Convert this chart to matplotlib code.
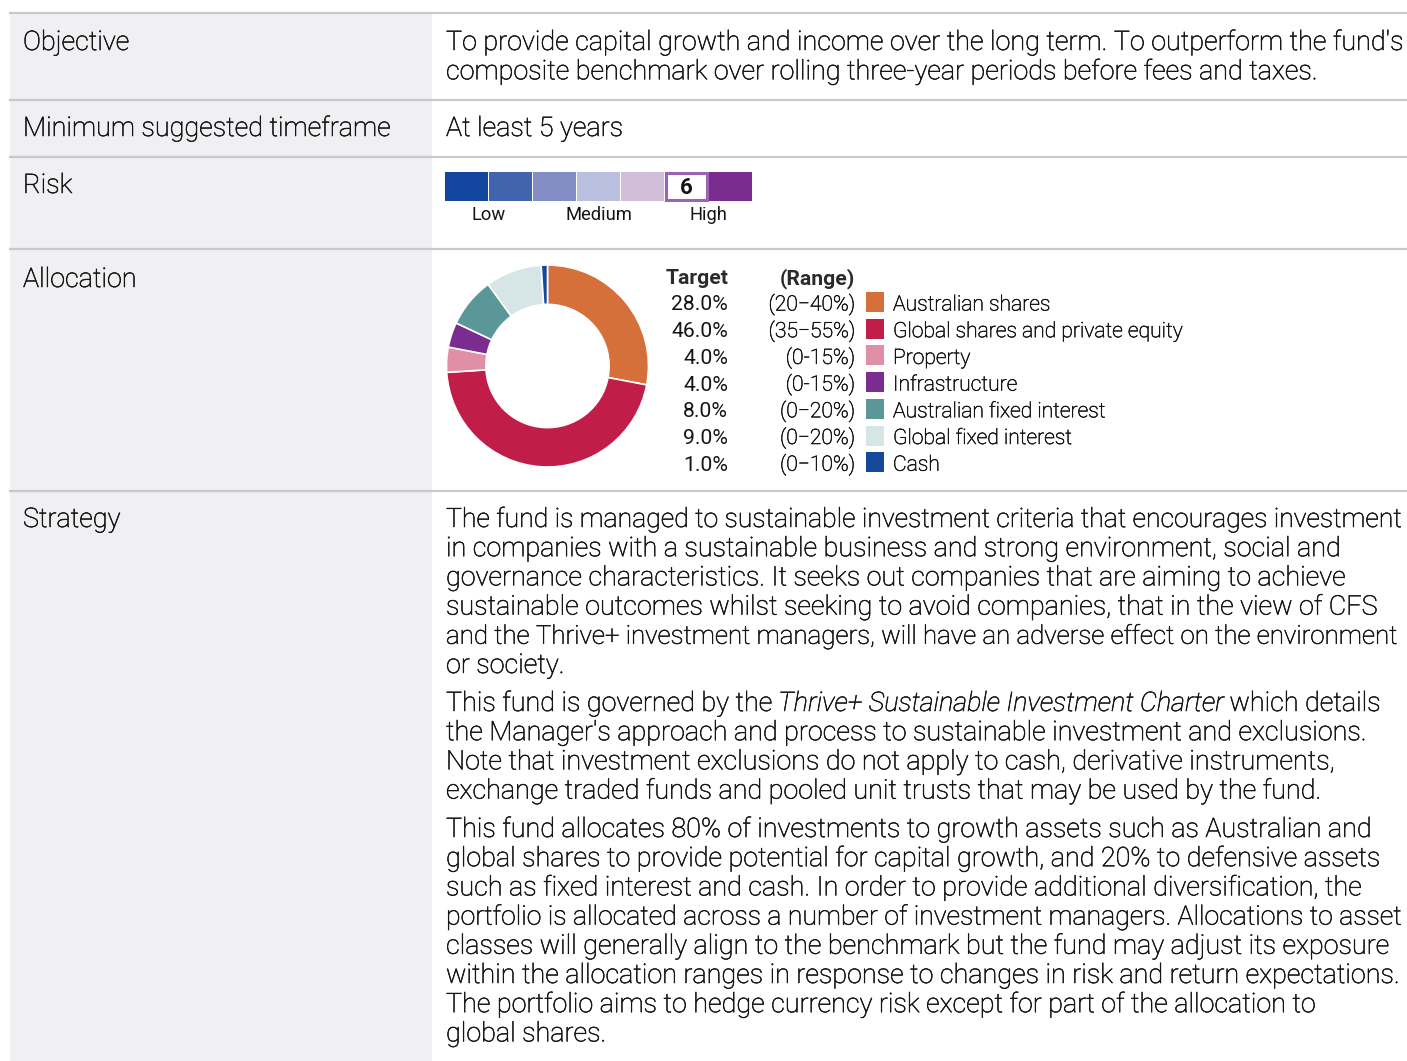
import matplotlib.pyplot as plt
import matplotlib.patheffects as pe
from matplotlib.patches import Rectangle

# --- data -------------------------------------------------------------
row_labels = ["Objective", "Minimum suggested timeframe", "Risk", "Allocation", "Strategy"]

objective_lines = [
    "To provide capital growth and income over the long term. To outperform the fund's",
    "composite benchmark over rolling three-year periods before fees and taxes.",
]
timeframe_text = "At least 5 years"

risk_level = 6
risk_colors = ["#13479f", "#4263ad", "#838dc5", "#bbc0e1", "#d3bed9", "#ffffff", "#7a2b8e"]
risk_labels = ["Low", "Medium", "High"]

asset_names = ["Australian shares", "Global shares and private equity", "Property",
               "Infrastructure", "Australian fixed interest", "Global fixed interest", "Cash"]
asset_targets = [28.0, 46.0, 4.0, 4.0, 8.0, 9.0, 1.0]
asset_ranges = ["(20\u221240%)", "(35\u221255%)", "(0-15%)", "(0-15%)",
                "(0\u221220%)", "(0\u221220%)", "(0\u221210%)"]
asset_colors = ["#d5703b", "#c01e48", "#e08fa6", "#7b2c90", "#5b9699", "#d6e5e6", "#15489b"]

strategy_paras = [
    ["The fund is managed to sustainable investment criteria that encourages investment",
     "in companies with a sustainable business and strong environment, social and",
     "governance characteristics. It seeks out companies that are aiming to achieve",
     "sustainable outcomes whilst seeking to avoid companies, that in the view of CFS",
     "and the Thrive+ investment managers, will have an adverse effect on the environment",
     "or society."],
    ["This fund is governed by the |Thrive+ Sustainable Investment Charter| which details",
     "the Manager's approach and process to sustainable investment and exclusions.",
     "Note that investment exclusions do not apply to cash, derivative instruments,",
     "exchange traded funds and pooled unit trusts that may be used by the fund."],
    ["This fund allocates 80% of investments to growth assets such as Australian and",
     "global shares to provide potential for capital growth, and 20% to defensive assets",
     "such as fixed interest and cash. In order to provide additional diversification, the",
     "portfolio is allocated across a number of investment managers. Allocations to asset",
     "classes will generally align to the benchmark but the fund may adjust its exposure",
     "within the allocation ranges in response to changes in risk and return expectations.",
     "The portfolio aims to hedge currency risk except for part of the allocation to",
     "global shares."],
]

# --- layout -----------------------------------------------------------
W, H = 1407, 1061
TXT = "#141414"
plt.rcParams["font.family"] = ["Roboto", "DejaVu Sans"]
# light weight, slightly thickened so it reads like the print
LT = dict(fontweight="light", color=TXT,
          path_effects=[pe.withStroke(linewidth=0.4, foreground=TXT)])

fig = plt.figure(figsize=(W / 100, H / 100), dpi=100)
ax = fig.add_axes([0, 0, 1, 1])
ax.set_xlim(0, W)
ax.set_ylim(H, 0)
ax.axis("off")

# grey label column and row rules
ax.add_patch(Rectangle((10, 13), 422, H - 13, color="#f0eff2", lw=0, zorder=0))
for y in [13, 100, 157, 249, 491]:
    ax.plot([10, W], [y, y], color="#c9c9cb", lw=1.6, zorder=1)

main_fs = 19.4
x_body, x_right = 446, 1401
body_texts = []

row_baselines = [50, 136, 193, 287, 527]
for lab, yb in zip(row_labels, row_baselines):
    ax.text(23, yb, lab, fontsize=main_fs, va="baseline", **LT)

for i, line in enumerate(objective_lines):
    body_texts.append(ax.text(x_body, 50 + i * 29.3, line, fontsize=main_fs, va="baseline", **LT))
ax.text(x_body, 136, timeframe_text, fontsize=main_fs, va="baseline", **LT)

# risk scale
for i, c in enumerate(risk_colors):
    x0 = 445 + i * 44
    if i + 1 == risk_level:
        ax.add_patch(Rectangle((x0 + 1.2, 173.2), 40.6, 26.6, facecolor="white",
                               edgecolor="#9a63b3", lw=2.2, zorder=2))
        ax.text(x0 + 21.5, 188.5, str(risk_level), fontsize=16, fontweight="bold",
                color=TXT, ha="center", va="center", zorder=3)
    else:
        ax.add_patch(Rectangle((x0, 172), 43, 29, color=c, lw=0, zorder=2))
for lab, xi in zip(risk_labels, [1, 3.5, 6]):
    ax.text(445 + xi * 44 - 0.5, 220, lab, fontsize=13.2, color=TXT, ha="center", va="baseline")

# donut
cx, cy, r = 547.5, 366, 102
pax = fig.add_axes([(cx - r) / W, (H - cy - r) / H, 2 * r / W, 2 * r / H])
pax.pie(asset_targets, colors=asset_colors, startangle=90, counterclock=False,
        radius=1, wedgeprops=dict(width=0.39, edgecolor="white", linewidth=1.2))
pax.set_xlim(-1.01, 1.01)
pax.set_ylim(-1.01, 1.01)
pax.axis("off")

# allocation table
leg_fs = 15.2
ax.text(728, 284, "Target", fontsize=leg_fs, fontweight="bold", color="#2a2a2a", ha="right", va="baseline")
ax.text(855, 284, "(Range)", fontsize=leg_fs, fontweight="bold", color="#2a2a2a", ha="right", va="baseline")
for i, (name, tgt, rng, col) in enumerate(zip(asset_names, asset_targets, asset_ranges, asset_colors)):
    yb = 310.5 + i * 26.7
    ax.text(728, yb, f"{tgt:.1f}%", fontsize=leg_fs, color=TXT, ha="right", va="baseline")
    ax.text(855, yb, rng, fontsize=leg_fs, ha="right", va="baseline", **LT)
    ax.add_patch(Rectangle((866, yb - 18.5), 18, 20, color=col, lw=0, zorder=2))
    ax.text(893, yb, name, fontsize=leg_fs, ha="left", va="baseline", **LT)

# strategy paragraphs
para_starts = [527, 711, 837]
for start, para in zip(para_starts, strategy_paras):
    for i, line in enumerate(para):
        yb = start + i * 29.2
        if "|" in line:
            a, b, c = line.split("|")
            t1 = ax.text(x_body, yb, a.rstrip(), fontsize=main_fs, va="baseline", **LT)
            t2 = ax.annotate(b, xy=(1, 0), xycoords=t1, xytext=(4.8, 0), textcoords="offset points",
                             fontsize=main_fs, style="italic", va="bottom", **LT)
            ax.annotate(c.lstrip(), xy=(1, 0), xycoords=t2, xytext=(4.8, 0), textcoords="offset points",
                        fontsize=main_fs, va="bottom", **LT)
        else:
            body_texts.append(ax.text(x_body, yb, line, fontsize=main_fs, va="baseline", **LT))

# squeeze any line that runs past the right margin
for _ in range(2):
    fig.canvas.draw()
    renderer = fig.canvas.get_renderer()
    for t in body_texts:
        bb = t.get_window_extent(renderer)
        if bb.x1 > x_right:
            t.set_fontsize(t.get_fontsize() * (x_right - x_body) / (bb.x1 - x_body))

fig.savefig("out.png", dpi=100)
